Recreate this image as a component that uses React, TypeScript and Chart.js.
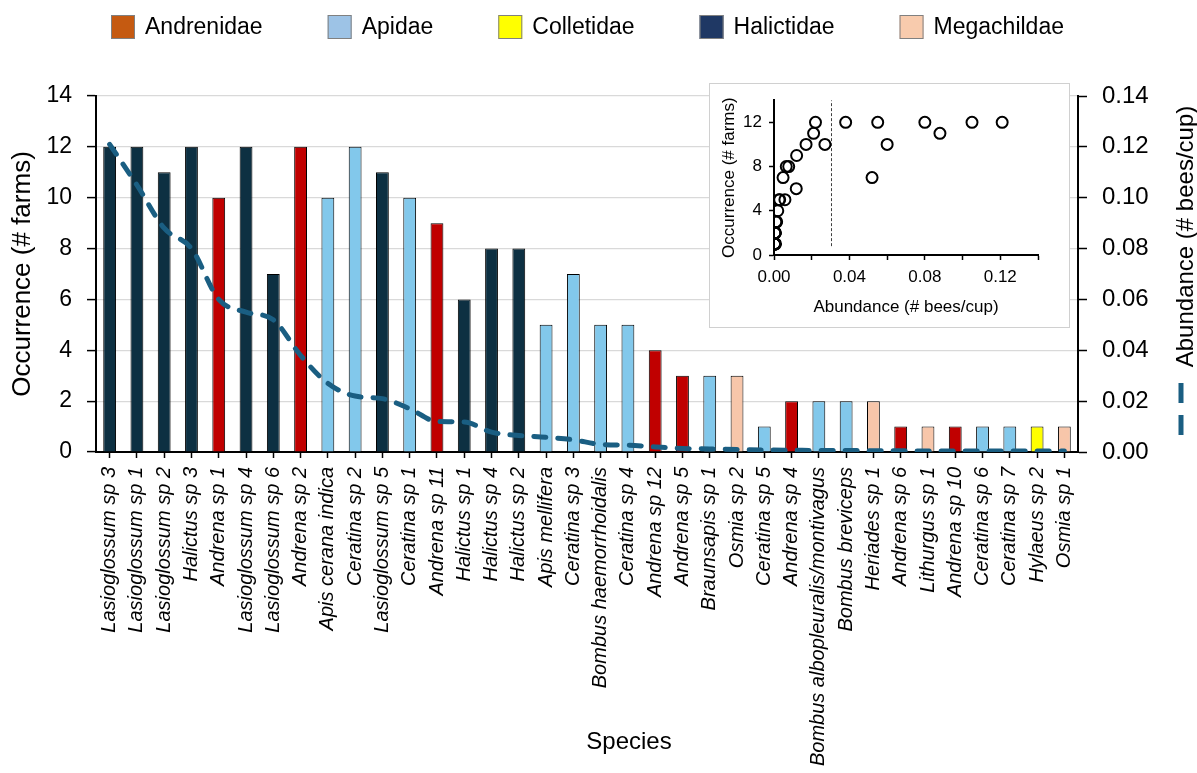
import React, { useEffect, useRef } from "react";
import { Chart, registerables } from "chart.js";
Chart.register(...registerables);

const FONT = '"Liberation Sans", Arial, sans-serif';
Chart.defaults.font.family = FONT;
Chart.defaults.color = "#000";

const categories = [
  "Lasioglossum sp 3", "Lasioglossum sp 1", "Lasioglossum sp 2", "Halictus sp 3",
  "Andrena sp 1", "Lasioglossum sp 4", "Lasioglossum sp 6", "Andrena sp 2",
  "Apis cerana indica", "Ceratina sp 2", "Lasioglossum sp 5", "Ceratina sp 1",
  "Andrena sp 11", "Halictus sp 1", "Halictus sp 4", "Halictus sp 2",
  "Apis mellifera", "Ceratina sp 3", "Bombus haemorrhoidalis", "Ceratina sp 4",
  "Andrena sp 12", "Andrena sp 5", "Braunsapis sp 1", "Osmia sp 2",
  "Ceratina sp 5", "Andrena sp 4", "Bombus albopleuralis/montivagus", "Bombus breviceps",
  "Heriades sp 1", "Andrena sp 6", "Lithurgus sp 1", "Andrena sp 10",
  "Ceratina sp 6", "Ceratina sp 7", "Hylaeus sp 2", "Osmia sp 1",
];

const occurrence = [
  12, 12, 11, 12, 10, 12, 7, 12, 10, 12, 11, 10, 9, 6, 8, 8, 5, 7, 5, 5,
  4, 3, 3, 3, 1, 2, 2, 2, 2, 1, 1, 1, 1, 1, 1, 1,
];

const abundance = [
  0.121, 0.105, 0.088, 0.08, 0.06, 0.055, 0.052, 0.038, 0.027, 0.022,
  0.021, 0.017, 0.012, 0.0118, 0.0078, 0.0065, 0.0058, 0.0048, 0.003, 0.0027,
  0.002, 0.0014, 0.0012, 0.001, 0.0008, 0.0007, 0.0006, 0.0006, 0.0005, 0.0005,
  0.0004, 0.0004, 0.0004, 0.0004, 0.0004, 0.0004,
];

const family = [
  "Halictidae", "Halictidae", "Halictidae", "Halictidae", "Andrenidae", "Halictidae",
  "Halictidae", "Andrenidae", "Apidae", "Apidae", "Halictidae", "Apidae",
  "Andrenidae", "Halictidae", "Halictidae", "Halictidae", "Apidae", "Apidae",
  "Apidae", "Apidae", "Andrenidae", "Andrenidae", "Apidae", "Megachildae",
  "Apidae", "Andrenidae", "Apidae", "Apidae", "Megachildae", "Andrenidae",
  "Megachildae", "Andrenidae", "Apidae", "Apidae", "Colletidae", "Megachildae",
];

const families = ["Andrenidae", "Apidae", "Colletidae", "Halictidae", "Megachildae"];
const legendColors = ["#C55A11", "#9DC3E6", "#FFFF00", "#1F3864", "#F8CBAD"];
const barColors: Record<string, string> = {
  Andrenidae: "#C00000",
  Apidae: "#82C8EB",
  Colletidae: "#FFFF00",
  Halictidae: "#0D3042",
  Megachildae: "#F7C6AA",
};
const lineColor = "#1A5E82";
const abundanceThreshold = 0.0305;
const thresholdRange = [0.8, 14];

const legendPlugin = {
  id: "familyLegend",
  afterDraw(chart: any) {
    const ctx = chart.ctx;
    ctx.save();
    ctx.font = `23px ${FONT}`;
    ctx.textBaseline = "middle";
    ctx.textAlign = "left";
    let x = 111;
    const cy = 27;
    families.forEach((f, i) => {
      ctx.fillStyle = legendColors[i];
      ctx.fillRect(x, cy - 12, 24, 24);
      ctx.strokeStyle = "#808080";
      ctx.lineWidth = 1;
      ctx.strokeRect(x + 0.5, cy - 11.5, 23, 23);
      ctx.fillStyle = "#000";
      ctx.fillText(f, x + 34, cy + 1);
      x += 34 + ctx.measureText(f).width + 65;
    });
    ctx.restore();
  },
};

const titlesPlugin = {
  id: "extraTitles",
  afterDraw(chart: any) {
    const ctx = chart.ctx;
    ctx.save();
    ctx.fillStyle = "#000";
    ctx.textAlign = "center";
    ctx.textBaseline = "middle";
    ctx.font = `24px ${FONT}`;
    ctx.fillText("Species", 629, 742);
    ctx.translate(1186, 236.5);
    ctx.rotate(-Math.PI / 2);
    ctx.fillText("Abundance (# bees/cup)", 0, 0);
    ctx.restore();
    ctx.save();
    ctx.strokeStyle = lineColor;
    ctx.lineWidth = 5;
    ctx.setLineDash([20, 12]);
    ctx.beginPath();
    ctx.moveTo(1181, 383);
    ctx.lineTo(1181, 435);
    ctx.stroke();
    ctx.restore();
  },
};

const insetFramePlugin = {
  id: "insetFrame",
  beforeDraw(chart: any) {
    const ctx = chart.ctx;
    ctx.save();
    ctx.fillStyle = "#fff";
    ctx.fillRect(0, 0, chart.width, chart.height);
    ctx.strokeStyle = "#d0d0d0";
    ctx.lineWidth = 1;
    ctx.strokeRect(0.5, 0.5, chart.width - 1, chart.height - 1);
    ctx.restore();
  },
};

export default function App() {
  const mainRef = useRef<HTMLCanvasElement | null>(null);
  const insetRef = useRef<HTMLCanvasElement | null>(null);

  useEffect(() => {
    const main = new Chart(mainRef.current as HTMLCanvasElement, {
      type: "bar",
      data: {
        labels: categories,
        datasets: [
          {
            type: "line",
            data: abundance,
            yAxisID: "y2",
            borderColor: lineColor,
            borderWidth: 5,
            borderDash: [12, 12],
            borderCapStyle: "round",
            pointRadius: 0,
            cubicInterpolationMode: "monotone",
            fill: false,
            order: 0,
          } as any,
          {
            type: "bar",
            data: occurrence,
            yAxisID: "y",
            backgroundColor: family.map((f) => barColors[f]),
            borderColor: "#000",
            borderWidth: 1,
            barPercentage: 0.47,
            categoryPercentage: 1,
            order: 1,
          } as any,
        ],
      },
      options: {
        responsive: false,
        animation: false,
        layout: { padding: { top: 96, left: 0, right: 0, bottom: 0 } },
        plugins: { legend: { display: false }, tooltip: { enabled: false } },
        scales: {
          x: {
            type: "category",
            offset: true,
            grid: {
              display: true,
              drawOnChartArea: false,
              offset: false,
              tickLength: 6,
              tickColor: "#000",
              tickWidth: 1.5,
            },
            border: { color: "#000", width: 2 },
            ticks: {
              autoSkip: false,
              maxRotation: 90,
              minRotation: 90,
              padding: 9,
              color: "#000",
              font: { family: FONT, size: 20, style: "italic" },
            },
            afterFit: (s: any) => {
              s.height = 321;
            },
          },
          y: {
            position: "left",
            min: 0,
            max: 14,
            ticks: { stepSize: 2, padding: 15, color: "#000", font: { family: FONT, size: 23 } },
            grid: { color: "#d9d9d9", lineWidth: 1.2, tickLength: 9, tickColor: "#000", tickWidth: 1.5 },
            border: { color: "#000", width: 2 },
            title: {
              display: true,
              text: "Occurrence (# farms)",
              color: "#000",
              font: { family: FONT, size: 26 },
              padding: { top: 7, bottom: 0 },
            },
            afterFit: (s: any) => {
              s.width = 96;
            },
          },
          y2: {
            position: "right",
            min: 0,
            max: 0.14,
            ticks: {
              stepSize: 0.02,
              padding: 15,
              color: "#000",
              font: { family: FONT, size: 24 },
              callback: (v: any) => Number(v).toFixed(2),
            },
            grid: { drawOnChartArea: false, tickLength: 9, tickColor: "#000", tickWidth: 1.5 },
            border: { color: "#000", width: 2 },
            afterFit: (s: any) => {
              s.width = 119;
            },
          },
        },
      } as any,
      plugins: [legendPlugin, titlesPlugin],
    });

    const inset = new Chart(insetRef.current as HTMLCanvasElement, {
      type: "scatter",
      data: {
        datasets: [
          {
            data: abundance.map((a, i) => ({ x: a, y: occurrence[i] })),
            pointRadius: 5.5,
            pointBorderWidth: 2,
            pointBorderColor: "#000",
            pointBackgroundColor: "rgba(0,0,0,0)",
            showLine: false,
          } as any,
          {
            type: "line",
            data: [
              { x: abundanceThreshold, y: thresholdRange[0] },
              { x: abundanceThreshold, y: thresholdRange[1] },
            ],
            borderColor: "#404040",
            borderWidth: 1,
            borderDash: [3, 2],
            pointRadius: 0,
            fill: false,
          } as any,
        ],
      },
      options: {
        responsive: false,
        animation: false,
        layout: { padding: { top: 17, right: 32, left: 0, bottom: 0 } },
        plugins: { legend: { display: false }, tooltip: { enabled: false } },
        scales: {
          x: {
            type: "linear",
            min: 0,
            max: 0.14,
            ticks: {
              stepSize: 0.02,
              autoSkip: false,
              maxRotation: 0,
              padding: 7,
              color: "#000",
              font: { family: FONT, size: 17 },
              callback: (v: any) => (Math.round(Number(v) * 100) % 4 === 0 ? Number(v).toFixed(2) : ""),
            },
            grid: { drawOnChartArea: false, tickLength: 5, tickColor: "#000", tickWidth: 1.5 },
            border: { color: "#000", width: 2 },
            title: {
              display: true,
              text: "Abundance (# bees/cup)",
              color: "#000",
              font: { family: FONT, size: 17 },
              padding: { top: 0, bottom: 10 },
            },
            afterFit: (s: any) => {
              s.height = 73;
            },
          },
          y: {
            min: 0,
            max: 14,
            ticks: {
              stepSize: 2,
              padding: 7,
              color: "#000",
              font: { family: FONT, size: 17 },
              callback: (v: any) => (Number(v) % 4 === 0 ? String(v) : ""),
            },
            grid: { drawOnChartArea: false, tickLength: 5, tickColor: "#000", tickWidth: 1.5 },
            border: { color: "#000", width: 2 },
            title: {
              display: true,
              text: "Occurrence (# farms)",
              color: "#000",
              font: { family: FONT, size: 17 },
              padding: { top: 10, bottom: 0 },
            },
            afterFit: (s: any) => {
              s.width = 65;
            },
          },
        },
      } as any,
      plugins: [insetFramePlugin],
    });

    return () => {
      main.destroy();
      inset.destroy();
    };
  }, []);

  return (
    <div style={{ position: "fixed", left: 0, top: 0, width: 1197, height: 773, background: "#fff" }}>
      <canvas
        ref={mainRef}
        width={1197}
        height={773}
        style={{ position: "absolute", left: 0, top: 0, width: 1197, height: 773 }}
      />
      <canvas
        ref={insetRef}
        width={361}
        height={245}
        style={{ position: "absolute", left: 709, top: 83, width: 361, height: 245 }}
      />
    </div>
  );
}
